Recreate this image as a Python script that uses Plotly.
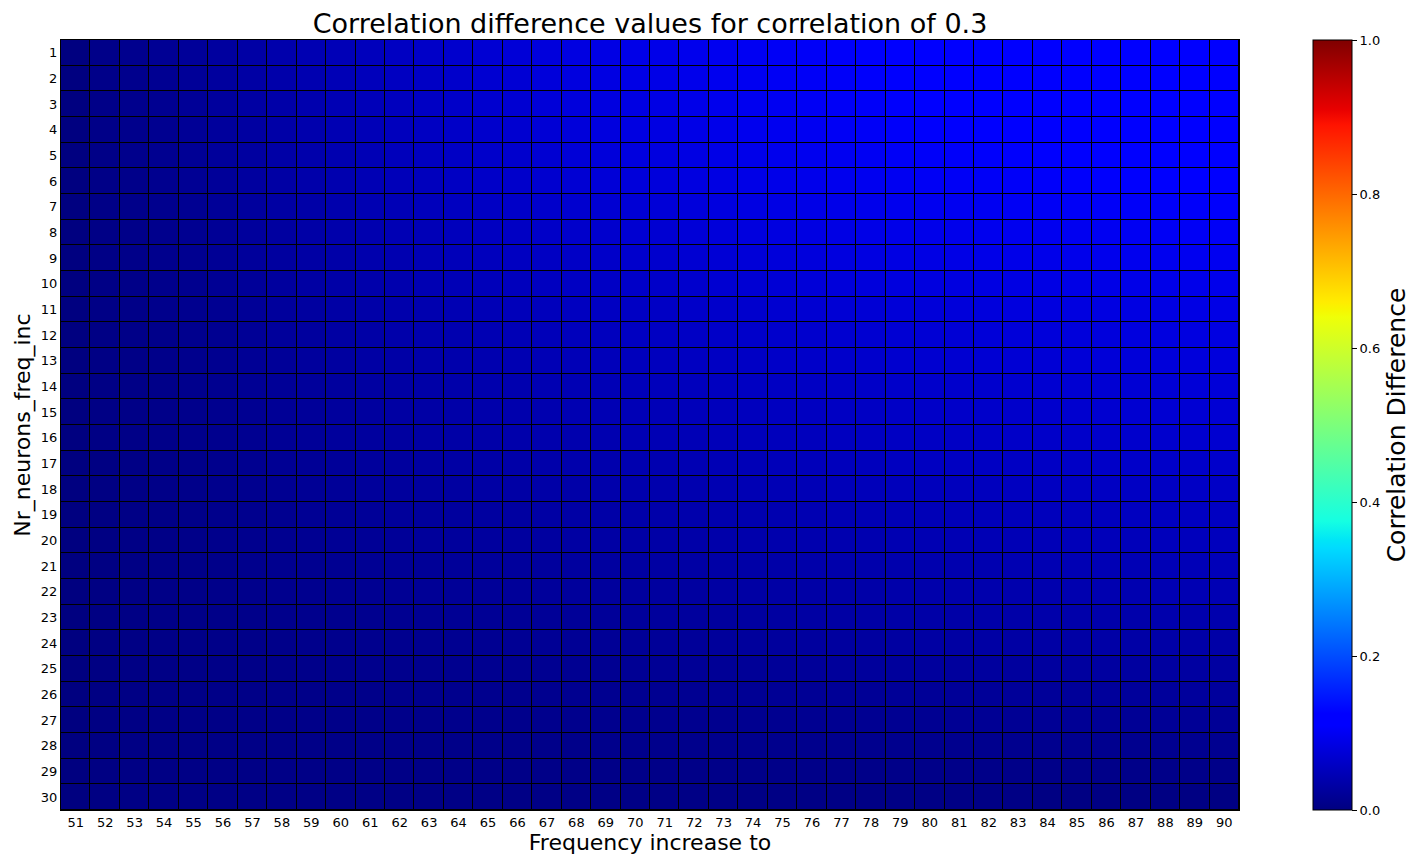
import plotly.graph_objects as go

# frequency increase targets (x) and number of neurons with frequency increase (y)
freq_increase = list(range(51, 91))
nr_neurons = list(range(1, 31))

# correlation difference, one row per nr_neurons value
corr_diff = [
    [0.000, 0.008, 0.012, 0.017, 0.022, 0.027, 0.032, 0.038, 0.043, 0.048, 0.052, 0.057, 0.062, 0.067, 0.072, 0.075, 0.080, 0.084, 0.087, 0.090, 0.091, 0.094, 0.097, 0.100, 0.102, 0.104, 0.106, 0.108, 0.110, 0.112, 0.113, 0.113, 0.114, 0.114, 0.115, 0.116, 0.116, 0.117, 0.117, 0.118],
    [0.000, 0.008, 0.011, 0.016, 0.021, 0.026, 0.031, 0.036, 0.042, 0.047, 0.051, 0.056, 0.060, 0.065, 0.070, 0.073, 0.078, 0.082, 0.085, 0.088, 0.089, 0.093, 0.096, 0.099, 0.101, 0.103, 0.105, 0.107, 0.109, 0.111, 0.112, 0.113, 0.113, 0.114, 0.115, 0.115, 0.116, 0.116, 0.117, 0.117],
    [0.000, 0.007, 0.011, 0.015, 0.020, 0.025, 0.030, 0.035, 0.040, 0.045, 0.049, 0.054, 0.059, 0.063, 0.068, 0.071, 0.076, 0.080, 0.083, 0.086, 0.087, 0.091, 0.094, 0.097, 0.099, 0.101, 0.103, 0.105, 0.108, 0.110, 0.111, 0.112, 0.112, 0.113, 0.114, 0.114, 0.115, 0.115, 0.116, 0.116],
    [0.000, 0.007, 0.010, 0.014, 0.019, 0.024, 0.029, 0.034, 0.039, 0.044, 0.048, 0.053, 0.057, 0.062, 0.066, 0.069, 0.074, 0.078, 0.081, 0.084, 0.085, 0.089, 0.092, 0.095, 0.097, 0.099, 0.101, 0.103, 0.106, 0.108, 0.109, 0.110, 0.111, 0.112, 0.113, 0.113, 0.114, 0.114, 0.115, 0.115],
    [0.000, 0.006, 0.010, 0.014, 0.018, 0.023, 0.028, 0.033, 0.037, 0.042, 0.046, 0.051, 0.055, 0.060, 0.064, 0.067, 0.071, 0.075, 0.078, 0.081, 0.082, 0.086, 0.089, 0.092, 0.094, 0.096, 0.098, 0.100, 0.103, 0.105, 0.106, 0.107, 0.108, 0.110, 0.111, 0.111, 0.112, 0.112, 0.113, 0.113],
    [0.000, 0.006, 0.009, 0.013, 0.017, 0.022, 0.027, 0.031, 0.036, 0.041, 0.045, 0.049, 0.053, 0.058, 0.062, 0.065, 0.068, 0.072, 0.075, 0.078, 0.079, 0.083, 0.086, 0.089, 0.091, 0.093, 0.095, 0.097, 0.099, 0.101, 0.102, 0.103, 0.105, 0.106, 0.107, 0.108, 0.109, 0.109, 0.110, 0.111],
    [0.000, 0.006, 0.009, 0.012, 0.016, 0.021, 0.025, 0.030, 0.034, 0.039, 0.043, 0.047, 0.051, 0.055, 0.059, 0.062, 0.065, 0.068, 0.071, 0.074, 0.075, 0.079, 0.082, 0.085, 0.087, 0.089, 0.091, 0.093, 0.095, 0.097, 0.098, 0.099, 0.101, 0.102, 0.103, 0.104, 0.105, 0.105, 0.106, 0.107],
    [0.000, 0.005, 0.008, 0.011, 0.015, 0.019, 0.024, 0.028, 0.033, 0.037, 0.041, 0.045, 0.048, 0.052, 0.056, 0.059, 0.062, 0.065, 0.067, 0.070, 0.071, 0.075, 0.078, 0.081, 0.083, 0.085, 0.087, 0.089, 0.091, 0.092, 0.093, 0.095, 0.096, 0.097, 0.098, 0.099, 0.100, 0.101, 0.102, 0.103],
    [0.000, 0.005, 0.008, 0.011, 0.014, 0.018, 0.023, 0.027, 0.031, 0.035, 0.039, 0.042, 0.046, 0.049, 0.053, 0.056, 0.058, 0.061, 0.063, 0.066, 0.067, 0.071, 0.074, 0.076, 0.078, 0.080, 0.082, 0.084, 0.086, 0.087, 0.088, 0.090, 0.091, 0.092, 0.093, 0.094, 0.095, 0.096, 0.097, 0.098],
    [0.000, 0.005, 0.007, 0.010, 0.013, 0.017, 0.022, 0.026, 0.030, 0.034, 0.037, 0.040, 0.044, 0.047, 0.050, 0.053, 0.055, 0.058, 0.060, 0.062, 0.063, 0.067, 0.070, 0.072, 0.074, 0.076, 0.078, 0.080, 0.081, 0.082, 0.083, 0.085, 0.086, 0.087, 0.088, 0.089, 0.090, 0.091, 0.092, 0.093],
    [0.000, 0.005, 0.007, 0.010, 0.013, 0.016, 0.020, 0.024, 0.028, 0.032, 0.035, 0.038, 0.041, 0.044, 0.047, 0.050, 0.052, 0.055, 0.057, 0.059, 0.060, 0.063, 0.065, 0.067, 0.069, 0.071, 0.073, 0.074, 0.076, 0.077, 0.078, 0.080, 0.081, 0.082, 0.083, 0.084, 0.085, 0.086, 0.087, 0.088],
    [0.000, 0.004, 0.007, 0.009, 0.012, 0.015, 0.019, 0.023, 0.026, 0.030, 0.033, 0.036, 0.039, 0.041, 0.044, 0.047, 0.049, 0.052, 0.054, 0.056, 0.057, 0.060, 0.062, 0.064, 0.066, 0.067, 0.069, 0.070, 0.072, 0.073, 0.074, 0.076, 0.077, 0.078, 0.079, 0.080, 0.081, 0.082, 0.083, 0.084],
    [0.000, 0.004, 0.006, 0.009, 0.011, 0.014, 0.018, 0.021, 0.025, 0.028, 0.031, 0.033, 0.036, 0.038, 0.041, 0.043, 0.046, 0.048, 0.050, 0.052, 0.054, 0.056, 0.058, 0.060, 0.062, 0.063, 0.065, 0.066, 0.068, 0.069, 0.070, 0.072, 0.073, 0.074, 0.075, 0.076, 0.077, 0.078, 0.079, 0.080],
    [0.000, 0.004, 0.006, 0.008, 0.011, 0.014, 0.017, 0.020, 0.023, 0.026, 0.029, 0.031, 0.034, 0.036, 0.039, 0.041, 0.043, 0.045, 0.047, 0.049, 0.051, 0.053, 0.055, 0.057, 0.058, 0.059, 0.061, 0.062, 0.064, 0.065, 0.066, 0.067, 0.068, 0.070, 0.071, 0.072, 0.073, 0.074, 0.075, 0.076],
    [0.000, 0.004, 0.006, 0.008, 0.010, 0.013, 0.016, 0.019, 0.022, 0.025, 0.027, 0.030, 0.032, 0.035, 0.037, 0.039, 0.041, 0.043, 0.045, 0.047, 0.048, 0.050, 0.052, 0.054, 0.055, 0.056, 0.058, 0.059, 0.061, 0.062, 0.063, 0.064, 0.065, 0.067, 0.068, 0.069, 0.070, 0.071, 0.072, 0.073],
    [0.000, 0.004, 0.006, 0.008, 0.010, 0.012, 0.015, 0.018, 0.021, 0.024, 0.026, 0.028, 0.031, 0.033, 0.035, 0.037, 0.039, 0.040, 0.042, 0.044, 0.045, 0.047, 0.049, 0.051, 0.052, 0.053, 0.055, 0.056, 0.058, 0.059, 0.060, 0.061, 0.062, 0.063, 0.064, 0.065, 0.066, 0.067, 0.068, 0.069],
    [0.000, 0.003, 0.005, 0.007, 0.009, 0.011, 0.014, 0.017, 0.019, 0.022, 0.024, 0.026, 0.029, 0.031, 0.033, 0.035, 0.036, 0.038, 0.039, 0.041, 0.042, 0.044, 0.046, 0.048, 0.049, 0.050, 0.052, 0.053, 0.055, 0.056, 0.057, 0.058, 0.059, 0.060, 0.061, 0.062, 0.063, 0.063, 0.064, 0.065],
    [0.000, 0.003, 0.005, 0.007, 0.009, 0.011, 0.013, 0.016, 0.018, 0.021, 0.023, 0.025, 0.027, 0.029, 0.031, 0.032, 0.034, 0.035, 0.037, 0.038, 0.039, 0.041, 0.043, 0.045, 0.046, 0.047, 0.049, 0.050, 0.051, 0.052, 0.053, 0.054, 0.055, 0.056, 0.057, 0.058, 0.059, 0.059, 0.060, 0.061],
    [0.000, 0.003, 0.005, 0.006, 0.008, 0.010, 0.012, 0.014, 0.017, 0.019, 0.021, 0.023, 0.024, 0.026, 0.028, 0.029, 0.031, 0.032, 0.034, 0.035, 0.036, 0.038, 0.040, 0.041, 0.042, 0.043, 0.045, 0.046, 0.047, 0.048, 0.049, 0.050, 0.051, 0.052, 0.053, 0.054, 0.055, 0.055, 0.056, 0.057],
    [0.000, 0.003, 0.005, 0.006, 0.008, 0.010, 0.012, 0.014, 0.016, 0.018, 0.019, 0.021, 0.023, 0.024, 0.026, 0.027, 0.028, 0.030, 0.031, 0.032, 0.033, 0.035, 0.036, 0.038, 0.039, 0.040, 0.041, 0.042, 0.043, 0.044, 0.045, 0.046, 0.047, 0.048, 0.049, 0.050, 0.050, 0.051, 0.052, 0.053],
    [0.000, 0.003, 0.004, 0.006, 0.007, 0.009, 0.011, 0.013, 0.014, 0.016, 0.017, 0.019, 0.020, 0.022, 0.023, 0.024, 0.025, 0.027, 0.028, 0.029, 0.030, 0.031, 0.033, 0.034, 0.035, 0.036, 0.037, 0.038, 0.039, 0.040, 0.041, 0.042, 0.043, 0.044, 0.045, 0.046, 0.046, 0.047, 0.048, 0.049],
    [0.000, 0.003, 0.004, 0.006, 0.007, 0.009, 0.010, 0.012, 0.013, 0.015, 0.016, 0.017, 0.019, 0.020, 0.021, 0.022, 0.023, 0.024, 0.025, 0.026, 0.027, 0.028, 0.030, 0.031, 0.032, 0.033, 0.034, 0.035, 0.036, 0.037, 0.038, 0.039, 0.039, 0.040, 0.041, 0.042, 0.042, 0.043, 0.044, 0.045],
    [0.000, 0.003, 0.004, 0.006, 0.007, 0.008, 0.009, 0.010, 0.011, 0.012, 0.013, 0.015, 0.016, 0.017, 0.018, 0.019, 0.020, 0.021, 0.022, 0.023, 0.024, 0.025, 0.026, 0.028, 0.029, 0.030, 0.031, 0.032, 0.033, 0.034, 0.034, 0.035, 0.035, 0.036, 0.036, 0.037, 0.037, 0.038, 0.038, 0.039],
    [0.000, 0.003, 0.004, 0.006, 0.007, 0.008, 0.008, 0.009, 0.010, 0.011, 0.012, 0.013, 0.014, 0.015, 0.016, 0.017, 0.018, 0.018, 0.019, 0.020, 0.021, 0.022, 0.023, 0.024, 0.025, 0.026, 0.027, 0.028, 0.029, 0.030, 0.030, 0.031, 0.031, 0.032, 0.032, 0.033, 0.033, 0.033, 0.034, 0.034],
    [0.000, 0.003, 0.004, 0.005, 0.006, 0.007, 0.007, 0.008, 0.009, 0.010, 0.011, 0.011, 0.012, 0.013, 0.014, 0.014, 0.015, 0.016, 0.016, 0.017, 0.018, 0.019, 0.019, 0.020, 0.021, 0.022, 0.023, 0.024, 0.024, 0.025, 0.025, 0.026, 0.026, 0.027, 0.027, 0.028, 0.028, 0.028, 0.029, 0.029],
    [0.000, 0.003, 0.004, 0.005, 0.006, 0.007, 0.007, 0.008, 0.008, 0.009, 0.009, 0.010, 0.011, 0.011, 0.012, 0.012, 0.013, 0.014, 0.014, 0.015, 0.015, 0.016, 0.017, 0.017, 0.018, 0.018, 0.019, 0.019, 0.020, 0.020, 0.021, 0.021, 0.022, 0.022, 0.022, 0.023, 0.023, 0.023, 0.024, 0.024],
    [0.000, 0.003, 0.004, 0.005, 0.006, 0.006, 0.007, 0.007, 0.008, 0.008, 0.008, 0.009, 0.009, 0.010, 0.010, 0.010, 0.011, 0.011, 0.012, 0.012, 0.012, 0.013, 0.013, 0.014, 0.014, 0.015, 0.015, 0.016, 0.016, 0.016, 0.017, 0.017, 0.017, 0.018, 0.018, 0.018, 0.018, 0.019, 0.019, 0.019],
    [0.000, 0.003, 0.004, 0.004, 0.005, 0.006, 0.006, 0.006, 0.007, 0.007, 0.007, 0.008, 0.008, 0.008, 0.009, 0.009, 0.009, 0.009, 0.010, 0.010, 0.010, 0.010, 0.011, 0.011, 0.011, 0.011, 0.011, 0.012, 0.012, 0.012, 0.012, 0.012, 0.013, 0.013, 0.013, 0.013, 0.013, 0.014, 0.014, 0.014],
    [0.000, 0.003, 0.004, 0.004, 0.005, 0.005, 0.005, 0.006, 0.006, 0.006, 0.006, 0.006, 0.006, 0.007, 0.007, 0.007, 0.007, 0.007, 0.007, 0.007, 0.007, 0.007, 0.008, 0.008, 0.008, 0.008, 0.008, 0.008, 0.008, 0.008, 0.008, 0.008, 0.008, 0.008, 0.008, 0.008, 0.008, 0.008, 0.008, 0.008],
    [0.000, 0.003, 0.004, 0.004, 0.005, 0.005, 0.005, 0.005, 0.005, 0.005, 0.005, 0.004, 0.004, 0.005, 0.005, 0.005, 0.005, 0.005, 0.005, 0.005, 0.005, 0.005, 0.005, 0.004, 0.004, 0.004, 0.004, 0.004, 0.004, 0.004, 0.004, 0.004, 0.004, 0.003, 0.003, 0.003, 0.003, 0.003, 0.003, 0.003],
]

for row in corr_diff:
    assert len(row) == len(freq_increase), len(row)


def jet_scale():
    # matplotlib 'jet' segment data, rebuilt as a plotly colorscale
    red = [(0, 0), (0.35, 0), (0.66, 1), (0.89, 1), (1, 0.5)]
    green = [(0, 0), (0.125, 0), (0.375, 1), (0.64, 1), (0.91, 0), (1, 0)]
    blue = [(0, 0.5), (0.11, 1), (0.34, 1), (0.65, 0), (1, 0)]

    def at(seg, x):
        for (x0, v0), (x1, v1) in zip(seg, seg[1:]):
            if x0 <= x <= x1:
                return v0 + (v1 - v0) * (x - x0) / (x1 - x0)
        return seg[-1][1]

    stops = sorted({p for seg in (red, green, blue) for p, _ in seg})
    scale = []
    for s in stops:
        r, g, b = (round(255 * at(seg, s)) for seg in (red, green, blue))
        scale.append([s, 'rgb(%d,%d,%d)' % (r, g, b)])
    return scale


font = 'DejaVu Sans, Verdana, sans-serif'

# the page body keeps its 8px margin, so the figure is sized to sit inside it
W, H = 1410, 851

hm = go.Heatmap(
    x=freq_increase,
    y=nr_neurons,
    z=corr_diff,
    zmin=0,
    zmax=1,
    colorscale=jet_scale(),
    xgap=1,
    ygap=1,
    colorbar=dict(
        x=1.0628,
        xanchor='left',
        xpad=0,
        y=0.5,
        len=1,
        ypad=0,
        thickness=39,
        outlinecolor='black',
        outlinewidth=1,
        tickvals=[0, 0.2, 0.4, 0.6, 0.8, 1.0],
        ticktext=['0.0', '0.2', '0.4', '0.6', '0.8', '1.0'],
        ticks='outside',
        ticklen=5,
        tickcolor='black',
        tickfont=dict(size=13, color='black'),
        title=dict(text='Correlation Difference', side='right', font=dict(size=25, color='black')),
    ),
)

layout = go.Layout(
    width=W,
    height=H,
    margin=dict(l=53, r=179, t=32, b=49, autoexpand=False),
    paper_bgcolor='white',
    plot_bgcolor='black',
    font=dict(family=font, color='black'),
    title=dict(
        text='Correlation difference values for correlation of 0.3',
        x=0.5,
        xref='paper',
        y=1 - 16 / H,
        yref='container',
        yanchor='middle',
        font=dict(size=27, color='black'),
    ),
    xaxis=dict(
        title=dict(text='Frequency increase to', font=dict(size=22), standoff=4),
        tickvals=freq_increase,
        ticktext=[str(v) for v in freq_increase],
        tickfont=dict(size=13),
        ticks='',
        automargin=False,
        showgrid=False,
        zeroline=False,
        showline=True,
        linecolor='black',
        linewidth=1,
        mirror=True,
    ),
    yaxis=dict(
        title=dict(text='Nr_neurons_freq_inc', font=dict(size=22), standoff=4),
        tickvals=nr_neurons,
        ticktext=[str(v) for v in nr_neurons],
        tickfont=dict(size=13),
        ticks='',
        automargin=False,
        autorange='reversed',
        showgrid=False,
        zeroline=False,
        showline=True,
        linecolor='black',
        linewidth=1,
        mirror=True,
    ),
)

fig = go.Figure(data=[hm], layout=layout)
fig.write_html("out.html")
